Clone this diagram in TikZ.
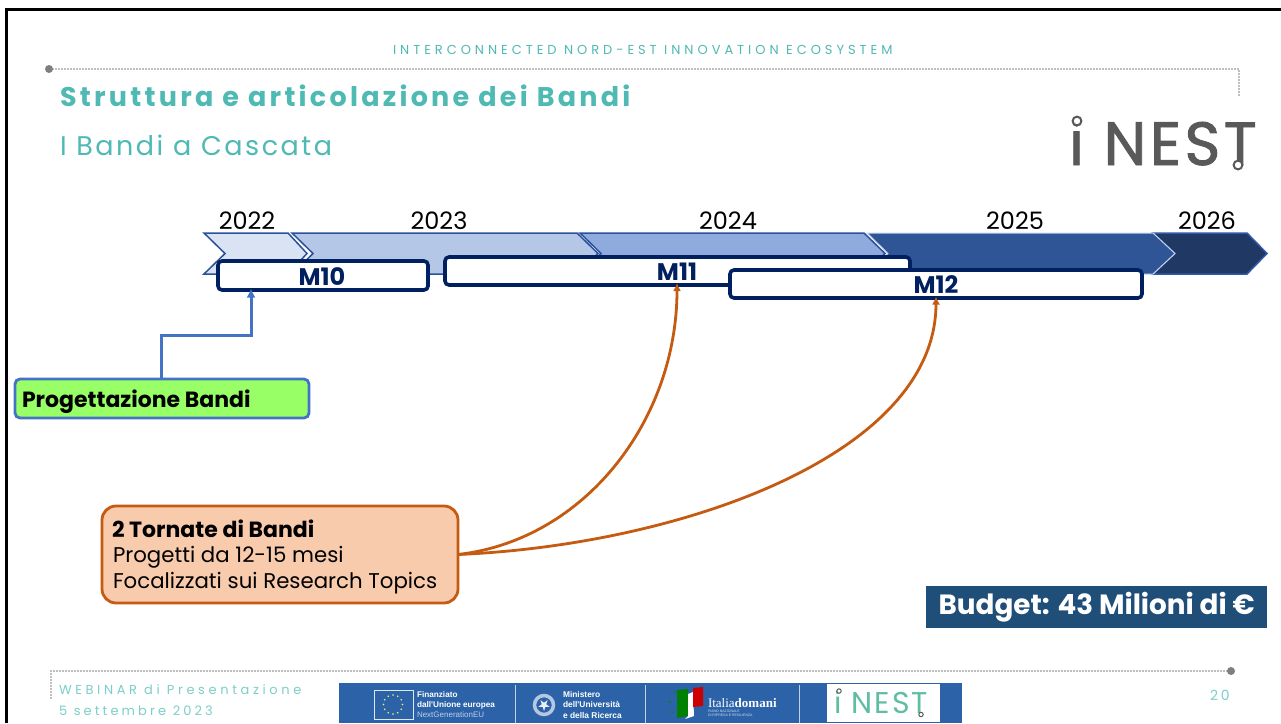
\documentclass[tikz,border=0pt]{standalone}
\usepackage{fontspec}
\setmainfont{Poppins}
\newfontfamily\serfont{Liberation Serif}
\newfontfamily\smfont{Liberation Sans}
\newcommand{\fsz}[2]{\fontsize{#1}{#2}\selectfont}
\definecolor{teal1}{HTML}{4FB9B3}
\definecolor{teal2}{HTML}{7CCFCA}
\definecolor{logoteal}{HTML}{5FBDA3}
\definecolor{navy}{HTML}{002060}
\definecolor{dotgrey}{HTML}{7F7F7F}
\definecolor{logogrey}{HTML}{595959}
\definecolor{band}{HTML}{2B62A8}
\definecolor{orangeL}{HTML}{C55A11}
\definecolor{blueL}{HTML}{4472C4}
\usetikzlibrary{arrows.meta,calc}
\tikzset{
 txt/.style={inner sep=0pt,outer sep=0pt,anchor=base west},
 mbox/.style={draw=navy,line width=3.6pt,fill=white,rounded corners=4pt,inner sep=0pt,outer sep=0pt,anchor=north west},
 mlabel/.style={inner sep=0pt,font=\fsz{24}{24}\bfseries,text=navy},
 year/.style={inner sep=0pt,anchor=base,font=\fsz{24}{24}},
 dotline/.style={dotgrey,line width=1.6pt,line cap=round,dash pattern=on 0pt off 3pt},
 chev/.style={line join=miter,draw=#1},
 bandtxt/.style={txt,text=white,font=\smfont\fsz{8.2}{9}\bfseries,align=left},
 conn/.style={orangeL,line width=2.8pt,-{Latex[length=8pt,width=8pt]}},
}
\begin{document}
\begin{tikzpicture}[x=1pt,y=-1pt]
\useasboundingbox (0,0) rectangle (1281,723);
\fill[white] (0,0) rectangle (1281,723);
% frame
\draw[black,line width=3pt] (6,723) -- (6,9) -- (1281,9);
% header
\node[txt,text=teal1,font=\fsz{13}{13}\addfontfeatures{LetterSpace=30.5}] (head) at (393,54) {INTERCONNECTED NORD-EST INNOVATION ECOSYSTEM};
\draw[dotline] (53,69) -- (1239,69) -- (1239,97);
\fill[dotgrey] (49,69) circle (4);
\node[txt,text=teal1,font=\fsz{27}{27}\bfseries\addfontfeatures{LetterSpace=12.1}] (title) at (60,106) {Struttura e articolazione dei Bandi};
\node[txt,text=teal1,font=\fsz{27}{27}\addfontfeatures{LetterSpace=9.3}] (sub) at (60,155) {I Bandi a Cascata};
% logo
\node[txt,text=logogrey,font=\fsz{61}{61}\addfontfeatures{LetterSpace=5.5,FakeBold=1.5}] (logo) at (1069,165) {i NEST};
\draw[logogrey,line width=2pt,fill=white] (1077,121) circle (4.4);
\draw[logogrey,line width=2pt,fill=white] (1238,165) circle (4.4);
% chevrons
\draw[chev=blueL!70!navy,line width=1.5pt,fill={rgb,255:red,32;green,56;blue,100}] (1153,233) -- (1247,233) -- (1267,253.5) -- (1247,274) -- (1153,274) -- (1175,253.5) -- cycle;
\draw[chev=white!70!blueL,line width=1pt,fill={rgb,255:red,47;green,85;blue,151}] (867,233) -- (1153,233) -- (1175,253.5) -- (1153,274) -- (867,274) -- (888,253.5) -- cycle;
\draw[chev=blueL!60!navy,line width=1.5pt,fill={rgb,255:red,143;green,170;blue,220}] (580,233) -- (864,233) -- (885,253.5) -- (864,274) -- (580,274) -- (601,253.5) -- cycle;
\draw[chev=blueL!60!navy,line width=1.5pt,fill={rgb,255:red,180;green,199;blue,231}] (292,233) -- (577,233) -- (598,253.5) -- (577,274) -- (292,274) -- (313,253.5) -- cycle;
\draw[chev=blueL!60!navy,line width=1.5pt,fill={rgb,255:red,218;green,227;blue,243}] (204,233) -- (288,233) -- (307,253.5) -- (288,274) -- (204,274) -- (225,253.5) -- cycle;
% years
\node[year] (y22) at (247,229) {2022};
\node[year] (y23) at (439,229) {2023};
\node[year] (y24) at (728,229) {2024};
\node[year] (y25) at (1015,229) {2025};
\node[year] (y26) at (1207,229) {2026};
% milestones
\node[mbox,minimum width=210pt,minimum height=29pt] (m10) at (218,261) {};
\node[mlabel] at (322,276.5) {M10};
\node[mbox,minimum width=465pt,minimum height=28pt] (m11) at (445,257) {};
\node[mlabel] at (677,271.5) {M11};
\node[mbox,minimum width=412pt,minimum height=28pt] (m12) at (730,270) {};
\node[mlabel] at (936,284.5) {M12};
% progettazione
\node[draw=blueL,line width=2.8pt,fill={rgb,255:red,153;green,255;blue,102},rounded corners=5pt,minimum width=294pt,minimum height=39pt,inner sep=0pt,outer sep=0pt,anchor=north west] (prog) at (15,379) {};
\node[txt,font=\fsz{22}{22}\bfseries] (progt) at (22,407) {Progettazione Bandi};
\draw[blueL,line width=3pt,-{Latex[length=9pt,width=9pt]}] ([xshift=146pt]prog.north west) -- ++(0,-44) -| ([xshift=33pt,yshift=1.5pt]m10.south west);
% orange box
\node[draw=orangeL,line width=2.8pt,fill={rgb,255:red,248;green,203;blue,173},rounded corners=14pt,minimum width=356pt,minimum height=97pt,inner sep=0pt,outer sep=0pt,anchor=north west] (torn) at (102,506) {};
\node[txt,font=\fsz{22}{22}\bfseries] (t1) at (112,537) {2 Tornate di Bandi};
\node[txt,font=\fsz{21.3}{22}] (t2) at (113,562) {Progetti da 12-15 mesi};
\node[txt,font=\fsz{21.3}{22}] (t3) at (113,588) {Focalizzati sui Research Topics};
\coordinate (m11c) at ([xshift=232pt,yshift=2pt]m11.south west);
\coordinate (m12c) at ([yshift=1.5pt]m12.south);
\draw[conn] (torn.east) .. controls (585,540) and (677,420) .. (m11c);
\draw[conn] (torn.east) .. controls (680,545) and (936,455) .. (m12c);
% budget
\node[fill={rgb,255:red,31;green,78;blue,121},text=white,font=\fsz{27.8}{28}\bfseries,minimum width=341pt,minimum height=42pt,inner sep=0pt,anchor=north west] (budget) at (926,586) {\raisebox{-2pt}{Budget: 43 Milioni di €}};
% footer
\draw[dotline] (1227,671) -- (51,671) -- (51,700);
\fill[dotgrey] (1231,671) circle (4);
\node[txt,text=teal2,font=\fsz{13}{13}\addfontfeatures{LetterSpace=27.9}] (w1) at (59,694) {WEBINAR di Presentazione};
\node[txt,text=teal2,font=\fsz{13}{13}\addfontfeatures{LetterSpace=24}] (w2) at (59,715) {5 settembre 2023};
\node[txt,text=teal2,font=\fsz{14}{14}\addfontfeatures{LetterSpace=20}] (pg) at (1210,700) {20};
% band
\fill[band] (339,683) rectangle (962,723);
\draw[white!85!band,line width=.8pt] (374,690) rectangle (413,719);
\foreach \a in {0,30,...,330} \fill[yellow!60!white] ($(393,704.5)+(\a:9.5)$) circle (.9);
\node[bandtxt] at (417,697) {Finanziato};
\node[bandtxt] at (417,707) {dall'Unione europea};
\node[txt,text=white!70!band,font=\smfont\fsz{8}{9}] at (417,717) {NextGenerationEU};
\draw[white!70!band,line width=.8pt] (515,685) -- (515,723);
\draw[white!65!band,line width=3.5pt] (544,705) circle (9.5);
\fill[white!90!band,shift={(544,705)}] (90:6) -- (234:6) -- (18:6) -- (162:6) -- (306:6) -- cycle;
\node[bandtxt,font=\smfont\fsz{8.4}{9}\bfseries] at (563,697) {Ministero};
\node[bandtxt,font=\smfont\fsz{8.4}{9}\bfseries] at (563,707.5) {dell'Università};
\node[bandtxt,font=\smfont\fsz{8.4}{9}\bfseries] at (563,718) {e della Ricerca};
\draw[white!70!band,line width=.8pt] (645,685) -- (645,723);
\fill[green!50!black] (677,690) -- (688,689) -- (688,716) -- (677,718) -- cycle;
\fill[white] (688,694) -- (693,692) -- (694,716) -- (685,719) -- (688,716) -- cycle;
\fill[red!80!black] (693,688) -- (703,687) -- (703,706) -- (693,707) -- cycle;
\foreach \p in {(670,702),(675,692),(672,712)} \fill[green!55!black] \p circle (1.2);
\node[txt,text=white,font=\serfont\fsz{13}{13}] at (708,707) {Italia\textbf{domani}};
\node[txt,text=white!80!band,font=\smfont\fsz{3.5}{4}] at (708,712) {PIANO NAZIONALE};
\node[txt,text=white!80!band,font=\smfont\fsz{3.5}{4}] at (708,716) {DI RIPRESA E RESILIENZA};
\draw[white!70!band,line width=.8pt] (799,685) -- (799,723);
\fill[white] (827,684) rectangle (940,722);
\node[txt,text=logoteal,font=\fsz{30}{30}\addfontfeatures{LetterSpace=7}] (flogo) at (834,713) {i NEST};
\draw[logogrey,line width=1pt,fill=white] (839,691) circle (2.2);
\draw[logogrey,line width=1pt,fill=white] (921,714.5) circle (2.2);
\end{tikzpicture}
\end{document}
